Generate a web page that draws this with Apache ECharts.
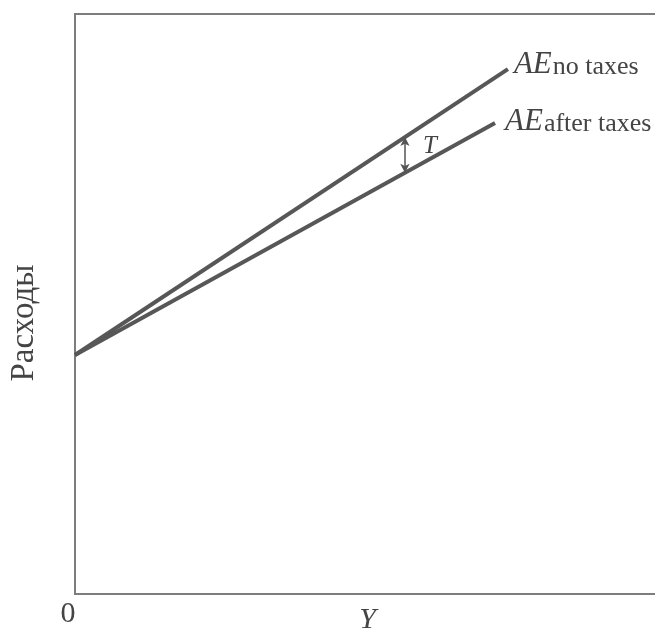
<!DOCTYPE html>
<html>
<head>
<meta charset="utf-8">
<script src="https://cdn.jsdelivr.net/npm/echarts@6/dist/echarts.min.js"></script>
<style>
  html, body { margin: 0; padding: 0; background: #fff; }
  #chart { width: 655px; height: 632px; }
</style>
</head>
<body>
<div id="chart"></div>
<script>
// Aggregate expenditure lines: [income Y, expenditure] at start and end
const incomeNoTaxes = [0, 74.0];
const aeNoTaxes = [41.2, 90.5];
const incomeAfterTaxes = [0, 71.8];
const aeAfterTaxes = [41.2, 81.2];

// Income level where the tax gap T is marked
const taxGapIncome = 56.4;

// Axis texts
const yAxisTitle = 'Расходы';
const xAxisTitle = 'Y';
const originLabel = '0';

function toPoints(xs, ys) {
  return xs.map((x, i) => [x, ys[i]]);
}
function valueAt(xs, ys, x) {
  const k = (ys[1] - ys[0]) / (xs[1] - xs[0]);
  return ys[0] + k * (x - xs[0]);
}

const gapTop = valueAt(incomeNoTaxes, aeNoTaxes, taxGapIncome);
const gapBottom = valueAt(incomeAfterTaxes, aeAfterTaxes, taxGapIncome);

const serif = '"Liberation Serif", "DejaVu Serif", serif';
const lineColor = '#575757';
const axisColor = '#7d7d7d';
const textColor = '#444';

const aeRich = {
  big: { fontFamily: serif, fontStyle: 'italic', fontSize: 31, color: textColor, verticalAlign: 'bottom', lineHeight: 34 },
  small: { fontFamily: serif, fontSize: 26, color: textColor, verticalAlign: 'bottom', lineHeight: 34, padding: [0, 0, 0, 1] }
};

const chart = echarts.init(document.getElementById('chart'));
chart.setOption({
  animation: false,
  grid: {
    left: 75, right: -5, top: 14, bottom: 38,
    outerBoundsMode: 'none', containLabel: false,
    show: true, borderColor: axisColor, borderWidth: 2, backgroundColor: 'transparent'
  },
  xAxis: {
    type: 'value', min: 0, max: 100, interval: 100,
    axisLine: { show: false }, axisTick: { show: false }, splitLine: { show: false },
    axisLabel: {
      show: true, margin: 5,
      fontFamily: serif, fontSize: 30, color: textColor,
      padding: [0, 14, 0, 0],
      formatter: v => (v === 0 ? originLabel : '')
    },
    name: xAxisTitle, nameLocation: 'middle', nameGap: 11, nameMoveOverlap: false,
    nameTextStyle: { fontFamily: serif, fontStyle: 'italic', fontSize: 30, color: textColor, verticalAlign: 'top' }
  },
  yAxis: {
    type: 'value', min: 0, max: 100, interval: 100,
    axisLine: { show: false }, axisTick: { show: false }, splitLine: { show: false },
    axisLabel: { show: false },
    name: yAxisTitle, nameLocation: 'middle', nameRotate: 90, nameGap: 34, nameMoveOverlap: false,
    nameTextStyle: { fontFamily: serif, fontSize: 33, color: textColor, padding: [0, 38, 0, 0] }
  },
  series: [
    {
      type: 'line',
      data: toPoints(incomeNoTaxes, aeNoTaxes),
      symbol: 'none',
      lineStyle: { color: lineColor, width: 4 },
      endLabel: {
        show: true, distance: 6, offset: [0, -6],
        formatter: '{big|AE}{small|no taxes}',
        rich: aeRich
      },
      markLine: {
        silent: true,
        symbol: ['arrow', 'arrow'],
        symbolSize: [7, 9],
        lineStyle: { color: '#555', width: 1.5, type: 'solid' },
        label: { show: false },
        data: [[
          { coord: [taxGapIncome, gapTop] },
          { coord: [taxGapIncome, gapBottom] }
        ]]
      },
      markPoint: {
        silent: true,
        symbol: 'circle', symbolSize: 0,
        label: {
          show: true, position: 'right', distance: 0, formatter: 'T',
          fontFamily: serif, fontStyle: 'italic', fontSize: 25, color: textColor,
          offset: [18, -9]
        },
        data: [{ coord: [taxGapIncome, (gapTop + gapBottom) / 2] }]
      },
      z: 3
    },
    {
      type: 'line',
      data: toPoints(incomeAfterTaxes, aeAfterTaxes),
      symbol: 'none',
      lineStyle: { color: lineColor, width: 4 },
      endLabel: {
        show: true, distance: 10, offset: [0, -3],
        formatter: '{big|AE}{small|after taxes}',
        rich: aeRich
      },
      z: 3
    }
  ]
});
</script>
</body>
</html>
